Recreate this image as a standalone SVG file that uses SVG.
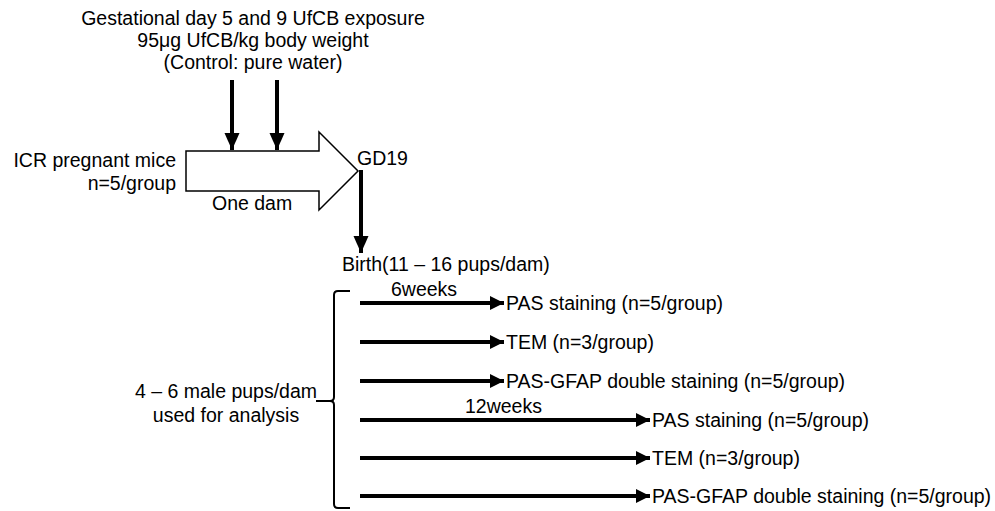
<svg xmlns="http://www.w3.org/2000/svg" width="995" height="511" viewBox="0 0 995 511">
<style>
text{font-family:"Liberation Sans",Arial,sans-serif;font-size:19.5px;fill:#000}
.shaft{stroke:#000;stroke-width:4;fill:none}
.br{stroke:#000;stroke-width:2;fill:none}
</style>
<defs>
<marker id="ah" markerUnits="userSpaceOnUse" markerWidth="16" markerHeight="15" refX="14" refY="7" orient="auto" viewBox="0 0 16 15">
<path d="M0,0 L14,7 L0,14 z" fill="#000"/>
</marker>
<marker id="av" markerUnits="userSpaceOnUse" markerWidth="18" markerHeight="16" refX="17" refY="8" orient="auto" viewBox="0 0 18 16">
<path d="M0,0.5 L17,8 L0,15.5 z" fill="#000"/>
</marker>
</defs>
<rect width="995" height="511" fill="#fff"/>
<g id="exposure">
<text x="253" y="25" text-anchor="middle">Gestational day 5 and 9 UfCB exposure</text>
<text x="253" y="47" text-anchor="middle">95μg UfCB/kg body weight</text>
<text x="253" y="69" text-anchor="middle">(Control: pure water)</text>
</g>
<g id="mice">
<text x="176" y="167" text-anchor="end">ICR pregnant mice</text>
<text x="176" y="190" text-anchor="end">n=5/group</text>
</g>
<g id="dam-arrow">
<polygon points="186,151 319,151 319,132 358,171 319,210 319,191 186,191" fill="#fff" stroke="#000" stroke-width="1.5"/>
<text x="212" y="210">One dam</text>
</g>
<g id="gd19"><text x="357" y="165">GD19</text></g>
<g id="birth"><text x="342" y="271">Birth(11 – 16 pups/dam)</text></g>
<g id="pups">
<text x="226" y="398" text-anchor="middle">4 – 6 male pups/dam</text>
<text x="226" y="422" text-anchor="middle">used for analysis</text>
</g>
<g id="labels">
<text x="391" y="296">6weeks</text>
<text x="465" y="413">12weeks</text>
</g>
<g id="outcome1"><text x="506" y="310">PAS staining (n=5/group)</text></g>
<g id="outcome2"><text x="506" y="349">TEM (n=3/group)</text></g>
<g id="outcome3"><text x="506" y="388">PAS-GFAP double staining (n=5/group)</text></g>
<g id="outcome4"><text x="652" y="427">PAS staining (n=5/group)</text></g>
<g id="outcome5"><text x="652" y="465">TEM (n=3/group)</text></g>
<g id="outcome6"><text x="652" y="503">PAS-GFAP double staining (n=5/group)</text></g>
<g id="connectors">
<line class="shaft" x1="232" y1="80" x2="232" y2="150" marker-end="url(#av)"/>
<line class="shaft" x1="277" y1="80" x2="277" y2="150" marker-end="url(#av)"/>
<line class="shaft" x1="361" y1="170" x2="361" y2="253" marker-end="url(#av)"/>
<path class="br" d="M350,291 L338,291 Q334,291 334,295 L334,397 Q334,401 330,401 L316,401 M330,401 Q334,401 334,405 L334,504 Q334,508 338,508 L350,508"/>
<line class="shaft" x1="360" y1="303" x2="504" y2="303" marker-end="url(#ah)"/>
<line class="shaft" x1="360" y1="342" x2="504" y2="342" marker-end="url(#ah)"/>
<line class="shaft" x1="360" y1="381" x2="504" y2="381" marker-end="url(#ah)"/>
<line class="shaft" x1="360" y1="420" x2="650" y2="420" marker-end="url(#ah)"/>
<line class="shaft" x1="360" y1="458" x2="650" y2="458" marker-end="url(#ah)"/>
<line class="shaft" x1="360" y1="496" x2="650" y2="496" marker-end="url(#ah)"/>
</g>
</svg>
